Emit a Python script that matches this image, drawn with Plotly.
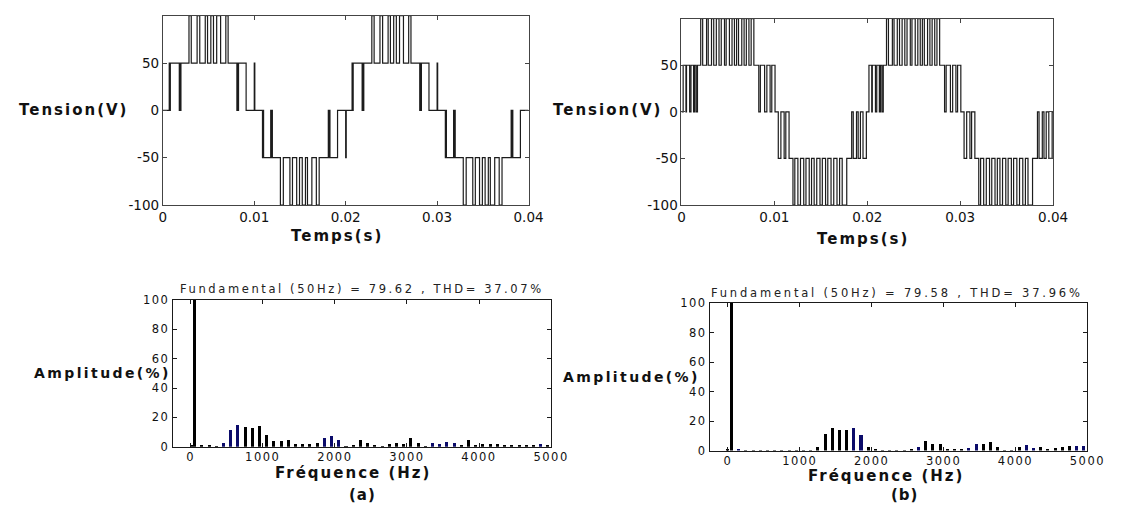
import plotly.graph_objects as go

W, H = 1125, 510

# ---------------- waveform (a): switching instants (ms) and levels (V) ----------------
ta_ms = [0.00, 0.70, 0.76, 0.82, 1.80, 1.86, 1.92, 1.98,
         2.86, 3.11, 3.75, 4.04, 4.64, 4.89, 5.25, 5.54, 5.89, 6.32, 6.89, 7.14,
         8.10, 8.16, 8.22, 8.28, 9.11, 10.00, 10.06,
         10.90, 10.96, 11.02, 11.80, 11.86, 11.92, 11.98,
         12.86, 13.18, 13.90, 14.18, 14.64, 14.95, 15.25, 15.60, 15.82, 16.30, 16.79, 17.10,
         18.10, 18.16, 18.22, 18.28, 19.11, 20.00, 20.06,
         20.70, 20.76, 20.82, 21.80, 21.86, 21.92, 21.98,
         22.86, 23.11, 23.75, 24.04, 24.64, 24.89, 25.25, 25.54, 25.89, 26.32, 26.89, 27.14,
         28.10, 28.16, 28.22, 28.28, 29.11, 30.00, 30.06,
         30.90, 30.96, 31.02, 31.80, 31.86, 31.92, 31.98,
         32.86, 33.18, 33.90, 34.18, 34.64, 34.95, 35.25, 35.60, 35.82, 36.30, 36.79, 37.10,
         38.10, 38.16, 38.22, 38.28, 39.11, 40.00]
va = [0, 50, 0, 50, 0, 50, 0, 50,
      100, 50, 100, 50, 100, 50, 100, 50, 100, 50, 100, 50,
      0, 50, 0, 50, 0, 50, 0,
      -50, 0, -50, 0, -50, 0, -50,
      -100, -50, -100, -50, -100, -50, -100, -50, -100, -50, -100, -50,
      0, -50, 0, -50, 0, -50, 0,
      50, 0, 50, 0, 50, 0, 50,
      100, 50, 100, 50, 100, 50, 100, 50, 100, 50, 100, 50,
      0, 50, 0, 50, 0, 50, 0,
      -50, 0, -50, 0, -50, 0, -50,
      -100, -50, -100, -50, -100, -50, -100, -50, -100, -50, -100, -50,
      0, -50, 0, -50, 0, 0]

# ---------------- waveform (b) ----------------
tb_ms = [0.00, 0.18, 0.48, 0.54, 0.88, 1.02, 1.30, 1.42, 1.58, 1.72,
         2.07, 2.28, 2.70, 2.88, 3.23, 3.47, 3.75, 4.04, 4.28, 4.63, 4.81, 5.16,
         5.44, 5.70, 5.93, 6.14, 6.49, 6.74, 6.98, 7.26, 7.50, 7.79,
         8.32, 8.49, 8.95, 9.19, 9.54, 9.72, 10.07,
         10.42, 10.70, 11.05, 11.23, 11.58,
         12.00, 12.20, 12.53, 12.81, 13.16, 13.40, 13.75, 14.00, 14.28, 14.56,
         14.91, 15.16, 15.51, 15.75, 16.10, 16.39, 16.74, 17.02, 17.30, 17.79,
         18.32, 18.49, 18.84, 19.02, 19.26, 19.54, 19.90,
         20.18, 20.48, 20.54, 20.88, 21.02, 21.30, 21.42, 21.58, 21.72,
         22.07, 22.28, 22.70, 22.88, 23.23, 23.47, 23.75, 24.04, 24.28, 24.63, 24.81, 25.16,
         25.44, 25.70, 25.93, 26.14, 26.49, 26.74, 26.98, 27.26, 27.50, 27.79,
         28.32, 28.49, 28.95, 29.19, 29.54, 29.72, 30.07,
         30.42, 30.70, 31.05, 31.23, 31.58,
         32.00, 32.20, 32.53, 32.81, 33.16, 33.40, 33.75, 34.00, 34.28, 34.56,
         34.91, 35.16, 35.51, 35.75, 36.10, 36.39, 36.74, 37.02, 37.30, 37.79,
         38.32, 38.49, 38.84, 39.02, 39.26, 39.54, 39.90, 40.00]
vb = [0, 50, 0, 50, 0, 50, 0, 50, 0, 50,
      100, 50, 100, 50, 100, 50, 100, 50, 100, 50, 100, 50,
      100, 50, 100, 50, 100, 50, 100, 50, 100, 50,
      0, 50, 0, 50, 0, 50, 0,
      -50, 0, -50, 0, -50,
      -100, -50, -100, -50, -100, -50, -100, -50, -100, -50,
      -100, -50, -100, -50, -100, -50, -100, -50, -100, -50,
      0, -50, 0, -50, 0, -50, 0,
      50, 0, 50, 0, 50, 0, 50, 0, 50,
      100, 50, 100, 50, 100, 50, 100, 50, 100, 50, 100, 50,
      100, 50, 100, 50, 100, 50, 100, 50, 100, 50,
      0, 50, 0, 50, 0, 50, 0,
      -50, 0, -50, 0, -50,
      -100, -50, -100, -50, -100, -50, -100, -50, -100, -50,
      -100, -50, -100, -50, -100, -50, -100, -50, -100, -50,
      0, -50, 0, -50, 0, -50, 0, 0]

# ---------------- spectrum (a) ----------------
freq_a = [0, 50, 150, 250, 350, 450, 550, 650, 750, 850, 950, 1050, 1150, 1250, 1350,
          1450, 1550, 1650, 1750, 1850, 1950, 2050, 2150, 2250, 2350, 2450, 2550, 2650,
          2750, 2850, 2950, 3050, 3150, 3250, 3350, 3450, 3550, 3650, 3750, 3850, 3950,
          4050, 4150, 4250, 4350, 4450, 4550, 4650, 4750, 4850, 4950]
amp_a = [1.0, 100, 0.7, 0.5, 0.3, 2.2, 11.0, 14.6, 13.5, 13.0, 13.7, 7.6, 3.9, 3.7, 4.8,
         1.7, 1.5, 1.7, 2.2, 5.6, 7.0, 4.8, 0.3, 1.0, 4.8, 2.6, 0.5, 0.3,
         1.7, 2.6, 1.7, 5.6, 2.2, 0.3, 2.6, 1.7, 3.3, 2.2, 0.9, 4.3, 0.7,
         1.5, 1.7, 1.5, 1.1, 1.3, 0.7, 0.5, 1.3, 1.7, 0.5]
navy_a = [450, 550, 650, 1850, 1950, 2050, 3350, 3450, 3550, 3650, 4850]

# ---------------- spectrum (b) ----------------
freq_b = [0, 50, 150, 250, 350, 450, 550, 650, 750, 850, 950, 1050, 1150, 1250, 1350,
          1450, 1550, 1650, 1750, 1850, 1950, 2050, 2150, 2250, 2350, 2450, 2550, 2650,
          2750, 2850, 2950, 3050, 3150, 3250, 3350, 3450, 3550, 3650, 3750, 3850, 3950,
          4050, 4150, 4250, 4350, 4450, 4550, 4650, 4750, 4850, 4950]
amp_b = [1.1, 100, 0.5, 0.3, 0.2, 0.2, 0.2, 0.2, 0.2, 0.2, 0.2, 0.3, 0.3, 2.6, 11.0,
         15.0, 13.6, 13.6, 15.0, 10.8, 2.6, 0.5, 0.3, 0.2, 0.2, 0.3, 0.7, 2.6,
         6.6, 4.4, 4.4, 1.3, 0.7, 0.9, 1.5, 4.4, 4.2, 5.9, 2.2, 0.3, 0.3,
         2.2, 3.7, 1.8, 2.2, 0.9, 1.8, 2.6, 2.9, 2.9, 2.9]
navy_b = [150, 1750, 1850, 2650, 3350, 3450, 4150, 4250, 4850, 4950]

title_a = "Fundamental (50Hz) = 79.62 , THD= 37.07%"
title_b = "Fundamental (50Hz) = 79.58 , THD= 37.96%"

time_ticks = [0, 0.01, 0.02, 0.03, 0.04]
time_ticktext = ["0", "0.01", "0.02", "0.03", "0.04"]
volt_ticks = [-100, -50, 0, 50]
volt_ticktext = ["-100", "-50", "0", "50"]
freq_ticks = [0, 1000, 2000, 3000, 4000, 5000]
amp_ticks = [0, 20, 40, 60, 80, 100]

NAVY = "#0b0b6a"
INK = "#1c1c1c"


def sp(txt, ls):
    return f'<span style="letter-spacing:{ls}px">{txt}</span>'


def px_dom_x(a, b):
    return [a / W, b / W]


def px_dom_y(top, bottom):
    return [1 - bottom / H, 1 - top / H]


fig = go.Figure()

fig.add_trace(go.Scatter(x=[t / 1000 for t in ta_ms], y=va, mode="lines",
                         line=dict(shape="hv", color=INK, width=1.2),
                         xaxis="x", yaxis="y", showlegend=False))
fig.add_trace(go.Scatter(x=[t / 1000 for t in tb_ms], y=vb, mode="lines",
                         line=dict(shape="hv", color=INK, width=1.2),
                         xaxis="x2", yaxis="y2", showlegend=False))
fig.add_trace(go.Bar(x=freq_a, y=amp_a, width=42,
                     marker=dict(color=[NAVY if f in navy_a else "#000000" for f in freq_a],
                                 line=dict(width=0)),
                     xaxis="x3", yaxis="y3", showlegend=False))
fig.add_trace(go.Bar(x=freq_b, y=amp_b, width=42,
                     marker=dict(color=[NAVY if f in navy_b else "#000000" for f in freq_b],
                                 line=dict(width=0)),
                     xaxis="x4", yaxis="y4", showlegend=False))

axis_top = dict(showline=True, linecolor="#444444", linewidth=1, mirror="allticks",
                ticks="inside", ticklen=4, tickcolor="#444444", showgrid=False,
                zeroline=False, fixedrange=True)
axis_bot = dict(showline=True, linecolor="#1a1a1a", linewidth=1, mirror="allticks",
                ticks="inside", ticklen=4, tickcolor="#1a1a1a", showgrid=False,
                zeroline=False, fixedrange=True)
top_font = dict(family="DejaVu Sans", size=13.5, color="#111111")
bot_font = dict(family="DejaVu Sans", size=11.5, color="#111111")

fig.update_layout(
    width=W, height=H,
    margin=dict(l=0, r=0, t=0, b=0),
    paper_bgcolor="white", plot_bgcolor="white",
    bargap=0,
    xaxis=dict(domain=px_dom_x(162, 535), range=[0, 0.04], tickvals=time_ticks,
               ticktext=time_ticktext, tickfont=top_font, anchor="y", **axis_top),
    yaxis=dict(domain=px_dom_y(9, 204), range=[-100, 100], tickvals=volt_ticks,
               ticktext=volt_ticktext, tickfont=top_font, anchor="x", **axis_top),
    xaxis2=dict(domain=px_dom_x(691, 1070), range=[0, 0.04], tickvals=time_ticks,
                ticktext=time_ticktext, tickfont=top_font, anchor="y2", **axis_top),
    yaxis2=dict(domain=px_dom_y(12, 204), range=[-100, 100], tickvals=volt_ticks,
                ticktext=volt_ticktext, tickfont=top_font, anchor="x2", **axis_top),
    xaxis3=dict(domain=px_dom_x(172, 558), range=[-250, 5000], tickvals=freq_ticks,
                ticktext=[sp(str(v), 1.5) for v in freq_ticks], tickfont=bot_font,
                anchor="y3", **axis_bot),
    yaxis3=dict(domain=px_dom_y(302, 453), range=[0, 100], tickvals=amp_ticks,
                ticktext=[sp(str(v), 1.5) for v in amp_ticks], tickfont=bot_font,
                anchor="x3", **axis_bot),
    xaxis4=dict(domain=px_dom_x(720, 1105), range=[-250, 5000], tickvals=freq_ticks,
                ticktext=[sp(str(v), 1.5) for v in freq_ticks], tickfont=bot_font,
                anchor="y4", **axis_bot),
    yaxis4=dict(domain=px_dom_y(305, 457), range=[0, 100], tickvals=amp_ticks,
                ticktext=[sp(str(v), 1.5) for v in amp_ticks], tickfont=bot_font,
                anchor="x4", **axis_bot),
)

bold = dict(family="DejaVu Sans", size=15, color="#111111", weight="bold")
bold_amp = dict(family="DejaVu Sans", size=14, color="#111111", weight="bold")
light = dict(family="DejaVu Sans", size=11.5, color="#222222")

labels = [
    ("Tension(V)", 71, 106, bold, 2),
    ("Tension(V)", 616, 106, bold, 2),
    ("Temps(s)", 340, 236, bold, 2),
    ("Temps(s)", 876, 239, bold, 2),
    ("Amplitude(%)", 100, 377.5, bold_amp, 2.4),
    ("Amplitude(%)", 640, 381, bold_amp, 2.4),
    ("Fréquence (Hz)", 356, 480, bold, 2),
    ("Fréquence (Hz)", 900, 483, bold, 2),
    ("(a)", 366, 503, bold, 1),
    ("(b)", 918, 503, bold, 1),
    (title_a, 365, 291, light, 2.6),
    (title_b, 911, 295, light, 2.8),
]
for txt, x, y, f, ls in labels:
    fig.add_annotation(text=sp(txt, ls), x=x / W, y=1 - y / H, xref="paper", yref="paper",
                       xanchor="center", yanchor="middle", showarrow=False, font=f,
                       borderpad=0)

fig.write_html("out.html", config={"displayModeBar": False},
               post_script="document.body.style.margin='0px';document.body.style.padding='0px';")
